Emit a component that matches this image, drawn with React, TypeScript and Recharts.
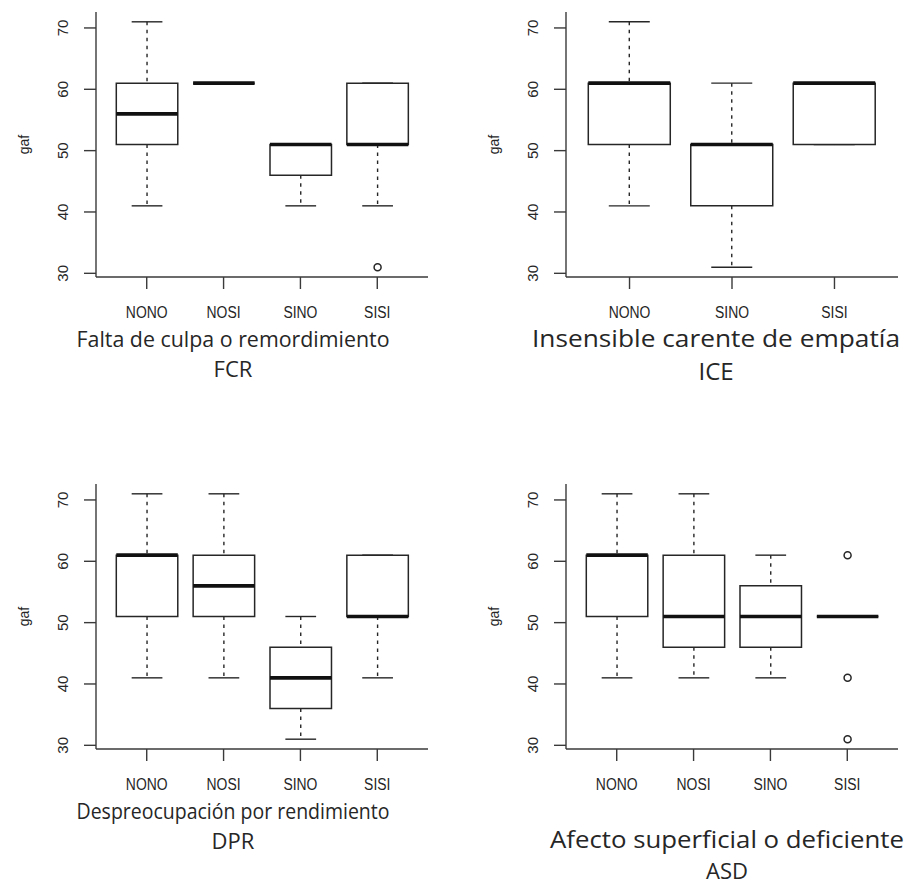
import React from 'react';
import { ComposedChart, Bar, XAxis, YAxis } from 'recharts';

// ---------- data ----------
const yTicks = [30, 40, 50, 60, 70];

const fcrCategories = ['NONO', 'NOSI', 'SINO', 'SISI'];
const fcrMin = [41, 61, 41, 41];
const fcrQ1 = [51, 61, 46, 51];
const fcrMedian = [56, 61, 51, 51];
const fcrQ3 = [61, 61, 51, 61];
const fcrMax = [71, 61, 51, 61];
const fcrOutliers: number[][] = [[], [], [], [31]];
const fcrTitle = ['Falta de culpa o remordimiento', 'FCR'];

const iceCategories = ['NONO', 'SINO', 'SISI'];
const iceMin = [41, 31, 51];
const iceQ1 = [51, 41, 51];
const iceMedian = [61, 51, 61];
const iceQ3 = [61, 51, 61];
const iceMax = [71, 61, 61];
const iceOutliers: number[][] = [[], [], []];
const iceTitle = ['Insensible carente de empatía', 'ICE'];

const dprCategories = ['NONO', 'NOSI', 'SINO', 'SISI'];
const dprMin = [41, 41, 31, 41];
const dprQ1 = [51, 51, 36, 51];
const dprMedian = [61, 56, 41, 51];
const dprQ3 = [61, 61, 46, 61];
const dprMax = [71, 71, 51, 61];
const dprOutliers: number[][] = [[], [], [], []];
const dprTitle = ['Despreocupación por rendimiento', 'DPR'];

const asdCategories = ['NONO', 'NOSI', 'SINO', 'SISI'];
const asdMin = [41, 41, 41, 51];
const asdQ1 = [51, 46, 46, 51];
const asdMedian = [61, 51, 51, 51];
const asdQ3 = [61, 61, 56, 51];
const asdMax = [71, 71, 61, 51];
const asdOutliers: number[][] = [[], [], [], [61, 41, 31]];
const asdTitle = ['Afecto superficial o deficiente', 'ASD'];

// ---------- styles ----------
const INK = '#262626';
const FRAME = '#3a3a3a';
const AXIS_FONT = "'Liberation Sans', Arial, sans-serif";
const CAPTION_FONT = "'Open Sans', sans-serif";
const PLOT_W = 332;
const PLOT_H = 265;
const X_AXIS_H = 50;

type PanelProps = {
  categories: string[];
  mins: number[];
  q1s: number[];
  medians: number[];
  q3s: number[];
  maxs: number[];
  outliers: number[][];
  left: number;
  top: number;
  width: number;
  plotLeft: number;
};

const rangeOf = (v: number | undefined) => (v === undefined ? null : [v, v]);

function BoxPanel(p: PanelProps) {
  const n = p.categories.length;
  const all = [...p.mins, ...p.maxs, ...p.outliers.flat()];
  const lo = Math.min(...all);
  const hi = Math.max(...all);
  const ext = (hi - lo) * 0.04;
  const domain: [number, number] = [lo - ext, hi + ext];
  const pad = (PLOT_W * 0.04) / 1.08;
  const band = (PLOT_W - 2 * pad) / n;
  const boxW = 0.8 * band;
  const height = 12 + PLOT_H + X_AXIS_H;

  const rows = p.categories.map((cat, i) => ({
    cat,
    lowW: [p.mins[i], p.q1s[i]],
    highW: [p.q3s[i], p.maxs[i]],
    box: [p.q1s[i], p.q3s[i]],
    med: [p.medians[i], p.medians[i]],
    o0: rangeOf(p.outliers[i][0]),
    o1: rangeOf(p.outliers[i][1]),
    o2: rangeOf(p.outliers[i][2]),
  }));

  const xPad = { left: pad, right: pad };

  const LowWhisker = (s: any) => {
    const cx = s.x + s.width / 2;
    const yb = s.y + s.height;
    return (
      <g>
        <line x1={cx} x2={cx} y1={s.y} y2={yb} stroke={INK} strokeWidth={1.4} strokeDasharray="3.5 4.5" />
        <line x1={cx - s.width / 4} x2={cx + s.width / 4} y1={yb} y2={yb} stroke={INK} strokeWidth={1.4} />
      </g>
    );
  };
  const HighWhisker = (s: any) => {
    const cx = s.x + s.width / 2;
    return (
      <g>
        <line x1={cx} x2={cx} y1={s.y} y2={s.y + s.height} stroke={INK} strokeWidth={1.4} strokeDasharray="3.5 4.5" />
        <line x1={cx - s.width / 4} x2={cx + s.width / 4} y1={s.y} y2={s.y} stroke={INK} strokeWidth={1.4} />
      </g>
    );
  };
  const BoxShape = (s: any) => (
    <path
      d={`M${s.x},${s.y}h${s.width}v${s.height}h${-s.width}Z`}
      fill="#fff"
      stroke={INK}
      strokeWidth={1.5}
    />
  );
  const MedianShape = (s: any) => (
    <line x1={s.x} x2={s.x + s.width} y1={s.y} y2={s.y} stroke="#111" strokeWidth={3.6} />
  );
  const OutlierShape = (s: any) => {
    if (s.value == null || s.y == null || isNaN(s.y)) return <g />;
    return <circle cx={s.x + s.width / 2} cy={s.y} r={3.5} fill="none" stroke={INK} strokeWidth={1.5} />;
  };

  const YTick = (t: any) => (
    <text
      x={0}
      y={0}
      transform={`translate(${p.plotLeft - 28},${t.y}) rotate(-90)`}
      textAnchor="middle"
      fontFamily={AXIS_FONT}
      fontSize={15}
      fill={INK}
    >
      {t.payload.value}
    </text>
  );
  const XTick = (t: any) => (
    <text
      x={0}
      y={0}
      transform={`translate(${t.x},${t.y + 29}) scale(0.82,1)`}
      textAnchor="middle"
      fontFamily={AXIS_FONT}
      fontSize={17}
      fill={INK}
    >
      {t.payload.value}
    </text>
  );
  const YLabel = (l: any) => {
    const vb = l.viewBox || { y: 12, height: PLOT_H };
    const cy = vb.y + vb.height / 2;
    return (
      <text
        x={0}
        y={0}
        transform={`translate(${p.plotLeft - 67},${cy}) rotate(-90)`}
        textAnchor="middle"
        fontFamily={AXIS_FONT}
        fontSize={14}
        fill={INK}
      >
        gaf
      </text>
    );
  };

  const hiddenX = (id: string) => (
    <XAxis xAxisId={id} dataKey="cat" type="category" hide padding={xPad} />
  );

  return (
    <div style={{ position: 'absolute', left: p.left, top: p.top }}>
      <ComposedChart
        width={p.width}
        height={height}
        data={rows}
        margin={{ top: 12, right: p.width - p.plotLeft - PLOT_W, bottom: 0, left: 0 }}
      >
        <XAxis
          xAxisId="box"
          dataKey="cat"
          type="category"
          height={X_AXIS_H}
          padding={xPad}
          tickSize={12}
          tickMargin={0}
          tick={<XTick />}
          tickLine={{ stroke: FRAME, strokeWidth: 1.4 }}
          axisLine={{ stroke: FRAME, strokeWidth: 1.4 }}
          interval={0}
        />
        <XAxis
          xAxisId="top"
          orientation="top"
          dataKey="cat"
          type="category"
          height={0}
          padding={xPad}
          tick={false}
          tickLine={false}
          axisLine={{ stroke: FRAME, strokeWidth: 1.4 }}
        />
        {hiddenX('lo')}
        {hiddenX('med')}
        {hiddenX('o0')}
        {hiddenX('o1')}
        {hiddenX('o2')}
        <YAxis
          yAxisId="left"
          type="number"
          domain={domain}
          ticks={yTicks}
          width={p.plotLeft}
          tickSize={12}
          tick={<YTick />}
          tickLine={{ stroke: FRAME, strokeWidth: 1.4 }}
          axisLine={{ stroke: FRAME, strokeWidth: 1.4 }}
          allowDataOverflow
          label={{ content: <YLabel /> }}
        />
        <YAxis
          yAxisId="right"
          orientation="right"
          type="number"
          domain={domain}
          ticks={yTicks}
          width={0}
          tick={false}
          tickLine={false}
          axisLine={{ stroke: FRAME, strokeWidth: 1.4 }}
          allowDataOverflow
        />
        <Bar xAxisId="lo" yAxisId="left" dataKey="lowW" barSize={boxW} shape={LowWhisker} isAnimationActive={false} />
        <Bar xAxisId="top" yAxisId="left" dataKey="highW" barSize={boxW} shape={HighWhisker} isAnimationActive={false} />
        <Bar xAxisId="box" yAxisId="left" dataKey="box" barSize={boxW} shape={BoxShape} isAnimationActive={false} />
        <Bar xAxisId="med" yAxisId="right" dataKey="med" barSize={boxW} shape={MedianShape} isAnimationActive={false} />
        <Bar xAxisId="o0" yAxisId="left" dataKey="o0" barSize={boxW} shape={OutlierShape} isAnimationActive={false} />
        <Bar xAxisId="o1" yAxisId="left" dataKey="o1" barSize={boxW} shape={OutlierShape} isAnimationActive={false} />
        <Bar xAxisId="o2" yAxisId="left" dataKey="o2" barSize={boxW} shape={OutlierShape} isAnimationActive={false} />
      </ComposedChart>
    </div>
  );
}

type CaptionProps = {
  lines: string[];
  cx: number;
  y1: number;
  y2: number;
  len: number;
  size: number;
  size2: number;
};
function Caption({ lines, cx, y1, y2, len, size, size2 }: CaptionProps) {
  return (
    <g fontFamily={CAPTION_FONT} fill="#262626" textAnchor="middle">
      <text x={cx} y={y1} fontSize={size} textLength={len} lengthAdjust="spacingAndGlyphs">
        {lines[0]}
      </text>
      <text x={cx} y={y2} fontSize={size2}>
        {lines[1]}
      </text>
    </g>
  );
}

export default function App() {
  return (
    <div style={{ position: 'absolute', left: 0, top: 0, width: 905, height: 885, background: '#fff', overflow: 'hidden' }}>
      <BoxPanel
        categories={fcrCategories} mins={fcrMin} q1s={fcrQ1} medians={fcrMedian} q3s={fcrQ3} maxs={fcrMax}
        outliers={fcrOutliers} left={0} top={0} width={450} plotLeft={96}
      />
      <BoxPanel
        categories={iceCategories} mins={iceMin} q1s={iceQ1} medians={iceMedian} q3s={iceQ3} maxs={iceMax}
        outliers={iceOutliers} left={450} top={0} width={455} plotLeft={116}
      />
      <BoxPanel
        categories={dprCategories} mins={dprMin} q1s={dprQ1} medians={dprMedian} q3s={dprQ3} maxs={dprMax}
        outliers={dprOutliers} left={0} top={472} width={450} plotLeft={96}
      />
      <BoxPanel
        categories={asdCategories} mins={asdMin} q1s={asdQ1} medians={asdMedian} q3s={asdQ3} maxs={asdMax}
        outliers={asdOutliers} left={450} top={472} width={455} plotLeft={116}
      />
      <svg width={905} height={885} style={{ position: 'absolute', left: 0, top: 0, pointerEvents: 'none' }}>
        <Caption lines={fcrTitle} cx={233} y1={347} y2={377} len={313} size={22} size2={22} />
        <Caption lines={iceTitle} cx={716} y1={347} y2={380} len={368} size={24} size2={24} />
        <Caption lines={dprTitle} cx={233} y1={819} y2={849} len={313} size={22} size2={22} />
        <Caption lines={asdTitle} cx={727} y1={848} y2={879} len={354} size={24} size2={22} />
      </svg>
    </div>
  );
}
